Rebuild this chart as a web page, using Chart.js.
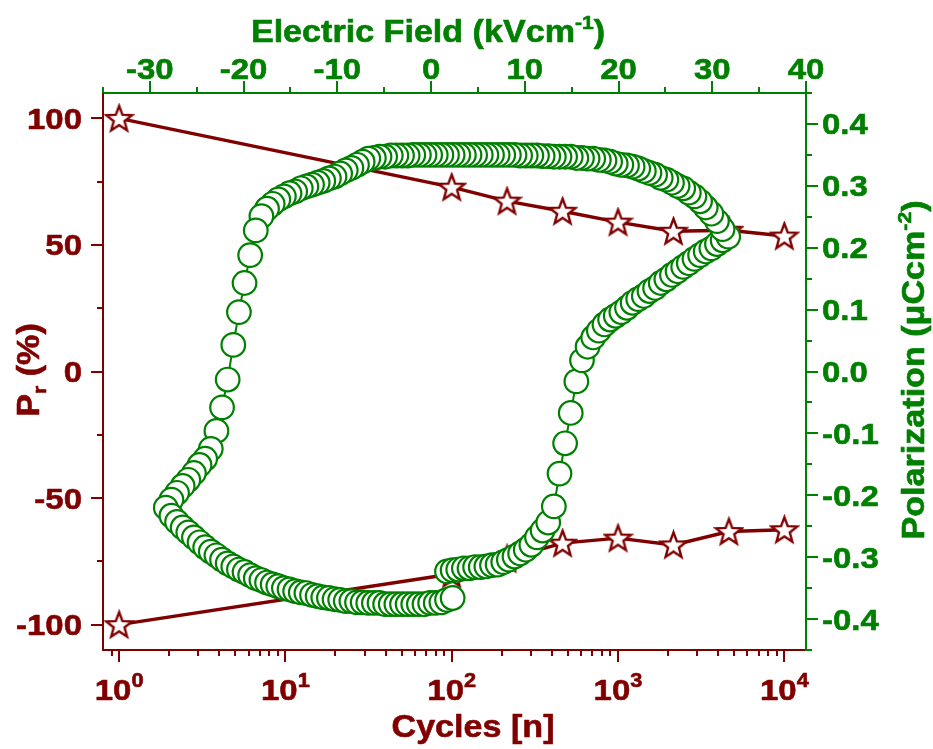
<!DOCTYPE html>
<html>
<head>
<meta charset="utf-8">
<script src="https://cdn.jsdelivr.net/npm/chart.js@4.4.1/dist/chart.umd.min.js"></script>
<style>
  html, body { margin: 0; padding: 0; background: #fff; }
</style>
</head>
<body>
<canvas id="myChart" width="933" height="749"></canvas>
<script>
'use strict';

// Pr vs cycles
const cycles = [1, 100, 215, 464, 1000, 2154, 4642, 10000];
const prUpper = [100, 72.8, 67.3, 63.3, 59, 55.4, 55.8, 53.5];
const prLower = [-100, -80, -74, -67.8, -65.8, -68.5, -63.2, -62.5];

// P-E loop (field kV/cm, polarization uC/cm2), read branch by branch
const fieldUp = [1.7, 2.3, 2.9, 3.5, 4.1, 4.7, 5.3, 5.9, 6.5, 7.1, 7.7, 8.3, 8.9, 9.5, 10.1, 10.7, 11.3, 11.9, 12.5, 13.1,
  13.7, 14.3, 14.9, 15.5, 16.1, 16.7, 17.3, 17.9, 18.5, 19.1, 19.7, 20.3, 20.9, 21.5, 22.1, 22.7, 23.3, 23.9, 24.5, 25.1,
  25.7, 26.3, 26.9, 27.5, 28.1, 28.7, 29.3, 29.9, 30.5, 31.1, 31.7];
const polUp = [-0.323, -0.321, -0.320, -0.318, -0.318, -0.316, -0.316, -0.315, -0.313, -0.312, -0.308, -0.304, -0.299, -0.294,
  -0.288, -0.280, -0.268, -0.257, -0.244, -0.218, -0.165, -0.116, -0.067, -0.016, 0.018, 0.040, 0.055, 0.066, 0.076, 0.084,
  0.090, 0.096, 0.103, 0.111, 0.117, 0.122, 0.130, 0.135, 0.143, 0.149, 0.156, 0.162, 0.169, 0.175, 0.182, 0.188, 0.194,
  0.199, 0.206, 0.212, 0.218];

const fieldDown = [31.1, 30.5, 29.9, 29.3, 28.7, 28.1, 27.5, 26.9, 26.3, 25.7, 25.1, 24.5, 23.9, 23.3, 22.7, 22.1, 21.5, 20.9,
  20.3, 19.7, 19.1, 18.5, 17.9, 17.3, 16.7, 16.1, 15.5, 14.9, 14.3, 13.7, 13.1, 12.5, 11.9, 11.3, 10.7, 10.1, 9.5, 8.9, 8.3,
  7.7, 7.1, 6.5, 5.9, 5.3, 4.7, 4.1, 3.5, 2.9, 2.3, 1.7, 1.1, 0.5, -0.1, -0.7, -1.3, -1.9, -2.5, -3.1, -3.7, -4.3, -4.9, -5.5,
  -6.1, -6.7, -7.3, -7.9, -8.5, -9.1, -9.7, -10.3, -10.9, -11.5, -12.1, -12.7, -13.3, -13.9, -14.5, -15.1, -15.7, -16.3,
  -16.9, -17.5, -18.1, -18.7, -19.3, -19.9, -20.5, -21.1, -21.7, -22.3, -22.9, -23.5, -24.1, -24.7, -25.3, -25.9, -26.5,
  -27.1, -27.7, -28.3];
const polDown = [0.230, 0.243, 0.255, 0.265, 0.275, 0.283, 0.289, 0.296, 0.300, 0.305, 0.310, 0.313, 0.318, 0.321, 0.324,
  0.328, 0.331, 0.333, 0.334, 0.336, 0.339, 0.341, 0.342, 0.344, 0.344, 0.345, 0.345, 0.347, 0.347, 0.347, 0.347, 0.348,
  0.348, 0.349, 0.349, 0.349, 0.349, 0.350, 0.350, 0.350, 0.350, 0.350, 0.350, 0.350, 0.350, 0.350, 0.350, 0.350, 0.350,
  0.350, 0.350, 0.350, 0.350, 0.350, 0.350, 0.350, 0.349, 0.349, 0.349, 0.349, 0.347, 0.347, 0.345, 0.344, 0.339, 0.334,
  0.329, 0.325, 0.320, 0.315, 0.312, 0.308, 0.305, 0.302, 0.299, 0.296, 0.291, 0.288, 0.283, 0.278, 0.271, 0.263, 0.251,
  0.228, 0.188, 0.143, 0.096, 0.043, -0.013, -0.058, -0.096, -0.125, -0.141, -0.151, -0.164, -0.175, -0.185, -0.196,
  -0.207, -0.220];

const fieldBack = [-27.7, -27.1, -26.5, -25.9, -25.3, -24.7, -24.1, -23.5, -22.9, -22.3, -21.7, -21.1, -20.5, -19.9, -19.3,
  -18.7, -18.1, -17.5, -16.9, -16.3, -15.7, -15.1, -14.5, -13.9, -13.3, -12.7, -12.1, -11.5, -10.9, -10.3, -9.7, -9.1, -8.5,
  -7.9, -7.3, -6.7, -6.1, -5.5, -4.9, -4.3, -3.7, -3.1, -2.5, -1.9, -1.3, -0.7, -0.1, 0.5, 1.1, 1.7, 2.3];
const polBack = [-0.233, -0.243, -0.252, -0.260, -0.268, -0.276, -0.284, -0.291, -0.297, -0.304, -0.310, -0.315, -0.320,
  -0.324, -0.329, -0.334, -0.337, -0.341, -0.344, -0.347, -0.350, -0.352, -0.355, -0.357, -0.358, -0.361, -0.363, -0.365,
  -0.366, -0.368, -0.369, -0.371, -0.371, -0.373, -0.373, -0.374, -0.374, -0.374, -0.376, -0.376, -0.376, -0.376, -0.376,
  -0.376, -0.376, -0.376, -0.374, -0.374, -0.373, -0.369, -0.366];

// ticks
const prTicks = [-100, -50, 0, 50, 100];
const prLabels = ['-100', '-50', '0', '50', '100'];
const prMinor = [-75, -25, 25, 75];
const polTicks = [-0.4, -0.3, -0.2, -0.1, 0, 0.1, 0.2, 0.3, 0.4];
const polLabels = ['-0.4', '-0.3', '-0.2', '-0.1', '0.0', '0.1', '0.2', '0.3', '0.4'];
const polMinor = [-0.45, -0.35, -0.25, -0.15, -0.05, 0.05, 0.15, 0.25, 0.35, 0.45];
const fieldTicks = [-30, -20, -10, 0, 10, 20, 30, 40];
const fieldLabels = ['-30', '-20', '-10', '0', '10', '20', '30', '40'];
const fieldMinor = [-35, -25, -15, -5, 5, 15, 25, 35];
const cycleTicks = [1, 10, 100, 1000, 10000];
const cycleExp = ['0', '1', '2', '3', '4'];
const cycleMinor = [0.9, 2, 3, 4, 5, 6, 7, 8, 9, 20, 30, 40, 50, 60, 70, 80, 90,
  200, 300, 400, 500, 600, 700, 800, 900, 2000, 3000, 4000, 5000, 6000, 7000, 8000, 9000];

const RED = '#800000';
const GREEN = '#008000';
const FONT = '"Liberation Sans", Arial, sans-serif';
const SX = 1.1; // text is a bit wide in the original

function zip(xs, ys) {
  return xs.map((x, i) => ({ x: x, y: ys[i] }));
}

function makeStar(size, color) {
  const c = document.createElement('canvas');
  c.width = c.height = size;
  const g = c.getContext('2d');
  const R = size / 2 - 2, r = R * 0.42, cx = size / 2, cy = size / 2 + 1;
  g.beginPath();
  for (let i = 0; i < 10; i++) {
    const a = -Math.PI / 2 + i * Math.PI / 5;
    const rad = i % 2 ? r : R;
    g.lineTo(cx + rad * Math.cos(a), cy + rad * Math.sin(a));
  }
  g.closePath();
  g.fillStyle = '#fff';
  g.fill();
  g.lineWidth = 2.4;
  g.lineJoin = 'miter';
  g.strokeStyle = color;
  g.stroke();
  return c;
}

function drawRich(ctx, parts, x, y, size, color, align) {
  let w = 0;
  parts.forEach(p => {
    ctx.font = 'bold ' + size * (p.k || 1) + 'px ' + FONT;
    w += ctx.measureText(p.t).width * SX;
  });
  let cx = align === 'center' ? x - w / 2 : (align === 'right' ? x - w : x);
  ctx.fillStyle = color;
  ctx.strokeStyle = color;
  ctx.lineWidth = 0.6;
  ctx.lineJoin = 'round';
  ctx.textAlign = 'left';
  ctx.textBaseline = 'alphabetic';
  parts.forEach(p => {
    ctx.font = 'bold ' + size * (p.k || 1) + 'px ' + FONT;
    ctx.save();
    ctx.translate(cx, y + (p.dy || 0) * size);
    ctx.scale(SX, 1);
    ctx.fillText(p.t, 0, 0);
    ctx.strokeText(p.t, 0, 0);
    ctx.restore();
    cx += ctx.measureText(p.t).width * SX;
  });
}

function vTicks(ctx, scale, values, x, dir, len, color) {
  ctx.strokeStyle = color;
  ctx.beginPath();
  values.forEach(v => {
    const y = Math.round(scale.getPixelForValue(v));
    ctx.moveTo(x, y);
    ctx.lineTo(x + dir * len, y);
  });
  ctx.stroke();
}

function hTicks(ctx, scale, values, y, dir, len, color) {
  ctx.strokeStyle = color;
  ctx.beginPath();
  values.forEach(v => {
    const x = Math.round(scale.getPixelForValue(v));
    ctx.moveTo(x, y);
    ctx.lineTo(x, y + dir * len);
  });
  ctx.stroke();
}

// Origin style ticks, labels and titles
const framePlugin = {
  id: 'framePlugin',
  afterDraw(chart) {
    const ctx = chart.ctx;
    const a = chart.chartArea;
    const s = chart.scales;
    ctx.save();
    ctx.lineWidth = 2;
    vTicks(ctx, s.y, prTicks, a.left, -1, 12, RED);
    vTicks(ctx, s.y, prMinor, a.left, -1, 6, RED);
    vTicks(ctx, s.y2, polTicks, a.right, 1, 12, GREEN);
    vTicks(ctx, s.y2, polMinor, a.right, 1, 6, GREEN);
    hTicks(ctx, s.x2, fieldTicks, a.top, -1, 12, GREEN);
    hTicks(ctx, s.x2, fieldMinor, a.top, -1, 6, GREEN);
    hTicks(ctx, s.x, cycleTicks, a.bottom, 1, 12, RED);
    hTicks(ctx, s.x, cycleMinor, a.bottom, 1, 6, RED);

    prTicks.forEach((v, i) => {
      drawRich(ctx, [{ t: prLabels[i] }], a.left - 21, s.y.getPixelForValue(v) + 10.5, 30, RED, 'right');
    });
    polTicks.forEach((v, i) => {
      drawRich(ctx, [{ t: polLabels[i] }], a.right + 16, s.y2.getPixelForValue(v) + 10.5, 30, GREEN, 'left');
    });
    fieldTicks.forEach((v, i) => {
      drawRich(ctx, [{ t: fieldLabels[i] }], s.x2.getPixelForValue(v), 79, 30, GREEN, 'center');
    });
    cycleTicks.forEach((v, i) => {
      drawRich(ctx, [{ t: '10' }, { t: cycleExp[i], k: 0.66, dy: -0.42 }], s.x.getPixelForValue(v), 700, 30, RED, 'center');
    });

    drawRich(ctx, [{ t: 'Electric Field (kVcm' }, { t: '-1', k: 0.62, dy: -0.42 }, { t: ')' }], 428, 42, 31, GREEN, 'center');
    drawRich(ctx, [{ t: 'Cycles [n]' }], 473, 737, 31, RED, 'center');

    ctx.save();
    ctx.translate(39, 370);
    ctx.rotate(-Math.PI / 2);
    drawRich(ctx, [{ t: 'P' }, { t: 'r', k: 0.62, dy: 0.22 }, { t: ' (%)' }], 0, 0, 31, RED, 'center');
    ctx.restore();

    ctx.save();
    ctx.translate(924, 370);
    ctx.rotate(-Math.PI / 2);
    drawRich(ctx, [{ t: 'Polarization (\u03bcCcm' }, { t: '-2', k: 0.62, dy: -0.42 }, { t: ')' }], 0, 0, 31, GREEN, 'center');
    ctx.restore();
    ctx.restore();
  }
};

const star = makeStar(31, RED);

const axisBase = {
  ticks: { display: false },
  grid: { drawOnChartArea: false, drawTicks: false },
};

const config = {
  type: 'scatter',
  data: {
    datasets: [{
      label: 'P-E loop',
      data: zip(fieldUp, polUp).concat(zip(fieldDown, polDown), zip(fieldBack, polBack)),
      xAxisID: 'x2',
      yAxisID: 'y2',
      showLine: true,
      borderColor: GREEN,
      borderWidth: 2,
      pointStyle: 'circle',
      pointRadius: 11.8,
      pointBorderWidth: 2.2,
      pointBorderColor: GREEN,
      pointBackgroundColor: '#fff',
      clip: false,
    }, {
      label: 'Pr upper',
      data: zip(cycles, prUpper),
      xAxisID: 'x',
      yAxisID: 'y',
      showLine: true,
      borderColor: RED,
      borderWidth: 3.4,
      pointStyle: star,
      clip: false,
    }, {
      label: 'Pr lower',
      data: zip(cycles, prLower),
      xAxisID: 'x',
      yAxisID: 'y',
      showLine: true,
      borderColor: RED,
      borderWidth: 3.4,
      pointStyle: star,
      clip: false,
    }]
  },
  options: {
    responsive: false,
    animation: false,
    devicePixelRatio: 1,
    events: [],
    layout: { padding: 0 },
    plugins: { legend: { display: false }, tooltip: { enabled: false } },
    scales: {
      x: Object.assign({}, axisBase, {
        type: 'logarithmic', position: 'bottom', min: 0.8, max: 13500,
        border: { color: RED, width: 2 },
        afterBuildTicks: sc => { sc.ticks = cycleTicks.map(v => ({ value: v })); },
        afterFit: sc => { sc.height = 99; },
      }),
      x2: Object.assign({}, axisBase, {
        type: 'linear', position: 'top', min: -35, max: 40,
        border: { color: GREEN, width: 2 },
        afterBuildTicks: sc => { sc.ticks = fieldTicks.map(v => ({ value: v })); },
        afterFit: sc => { sc.height = 93; },
      }),
      y: Object.assign({}, axisBase, {
        type: 'linear', position: 'left', min: -110, max: 110,
        border: { color: RED, width: 2 },
        afterBuildTicks: sc => { sc.ticks = prTicks.map(v => ({ value: v })); },
        afterFit: sc => { sc.width = 103; },
      }),
      y2: Object.assign({}, axisBase, {
        type: 'linear', position: 'right', min: -0.45, max: 0.45,
        border: { color: GREEN, width: 2 },
        afterBuildTicks: sc => { sc.ticks = polTicks.map(v => ({ value: v })); },
        afterFit: sc => { sc.width = 127; },
      }),
    }
  },
  plugins: [framePlugin],
};

const myChart = new Chart(document.getElementById('myChart').getContext('2d'), config);
</script>
</body>
</html>
